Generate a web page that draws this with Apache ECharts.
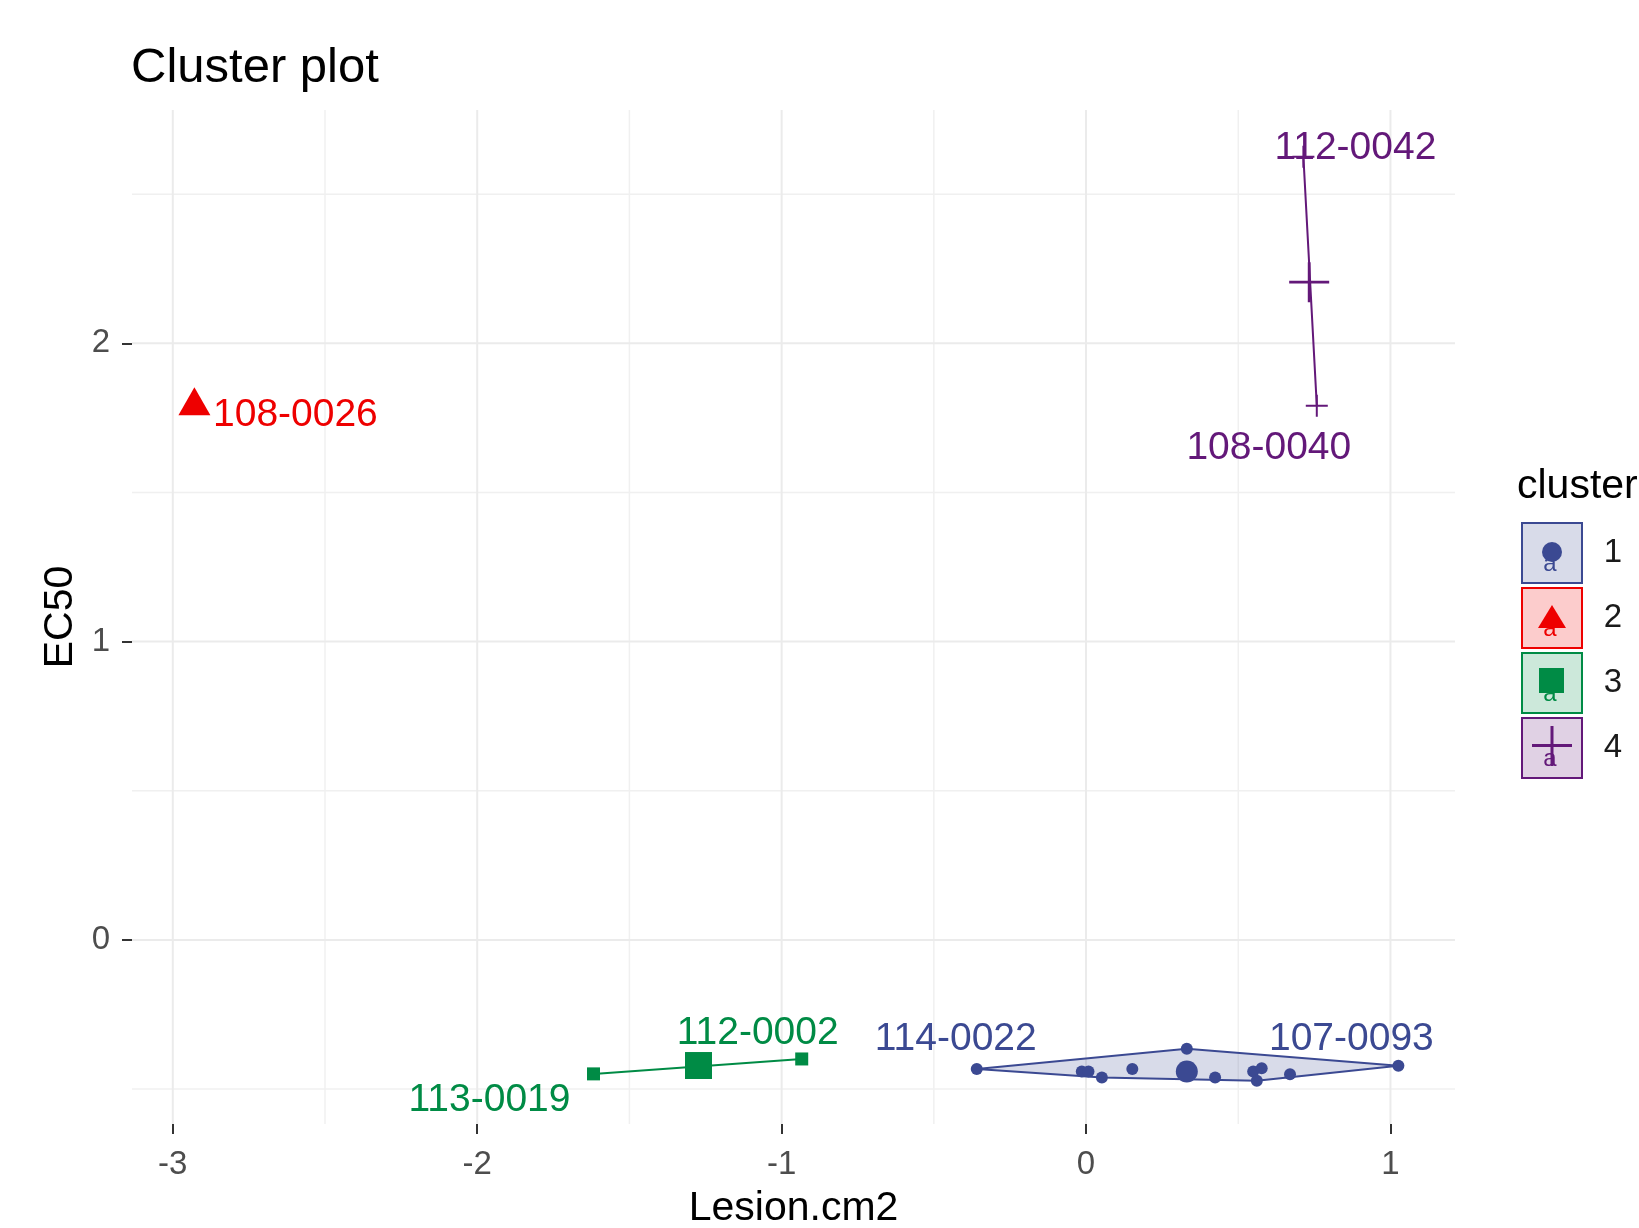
<!DOCTYPE html>
<html><head><meta charset="utf-8">
<script src="https://cdn.jsdelivr.net/npm/echarts@6/dist/echarts.min.js"></script>
<style>html,body{margin:0;padding:0;background:#fff}#c{width:1639px;height:1228px}</style>
</head><body><div id="c"></div>
<script>
// ---------------- data ----------------
const clusterNames = ['1', '2', '3', '4'];
const clusterColors = ['#3B4992', '#EE0000', '#008B45', '#631879'];

const cluster1Lesion = [-0.359, -0.014, 0.008, 0.052, 0.152, 0.331, 0.424, 0.549, 0.577, 0.561, 0.670, 1.026];
const cluster1EC50   = [-0.433, -0.441, -0.441, -0.461, -0.433, -0.365, -0.461, -0.441, -0.430, -0.472, -0.450, -0.422];
const cluster1Ids    = ['114-0022', '', '', '', '', '', '', '', '', '', '', '107-0093'];

const cluster2Lesion = [-2.929];
const cluster2EC50   = [1.806];
const cluster2Ids    = ['108-0026'];

const cluster3Lesion = [-1.618, -0.934];
const cluster3EC50   = [-0.449, -0.399];
const cluster3Ids    = ['113-0019', '112-0002'];

const cluster4Lesion = [0.714, 0.758];
const cluster4EC50   = [2.625, 1.791];
const cluster4Ids    = ['112-0042', '108-0040'];

const centroidLesion = [0.331, -2.929, -1.273, 0.733];
const centroidEC50   = [-0.441, 1.806, -0.421, 2.205];

const xTicks = [-3, -2, -1, 0, 1];
const yTicks = [0, 1, 2];
const xMinor = [-2.5, -1.5, -0.5, 0.5];
const yMinor = [-0.5, 0.5, 1.5, 2.5];
const xRange = [-3.134, 1.212];
const yRange = [-0.617, 2.782];

// ---------------- styling ----------------
const FONT = '"Liberation Sans", Arial, sans-serif';
const labelOffsets = {
  '114-0022': [-21, -30], '107-0093': [-47, -27], '108-0026': [101, 14],
  '113-0019': [-104, 26], '112-0002': [-44, -26], '112-0042': [52, -9], '108-0040': [-48, 43]
};
const plusSmall = 'path://M-1,-0.09L1,-0.09L1,0.09L-1,0.09Z M-0.09,-1L0.09,-1L0.09,1L-0.09,1Z';
const plusBig = 'path://M-1,-0.07L1,-0.07L1,0.07L-1,0.07Z M-0.07,-1L0.07,-1L0.07,1L-0.07,1Z';
const smallSymbols = [['circle', 12], ['triangle', [22, 19]], ['rect', 13], [plusSmall, 22]];
const bigSymbols = [['circle', 22], ['triangle', [32, 28]], ['rect', 27], [plusBig, 40]];

function rgba(hex, a) {
  const n = parseInt(hex.slice(1), 16);
  return 'rgba(' + (n >> 16 & 255) + ',' + (n >> 8 & 255) + ',' + (n & 255) + ',' + a + ')';
}

const clusters = [
  [cluster1Lesion, cluster1EC50, cluster1Ids],
  [cluster2Lesion, cluster2EC50, cluster2Ids],
  [cluster3Lesion, cluster3EC50, cluster3Ids],
  [cluster4Lesion, cluster4EC50, cluster4Ids]
];

function convexHull(points) {
  const p = points.slice().sort((a, b) => a[0] - b[0] || a[1] - b[1]);
  if (p.length < 3) return p;
  const cross = (o, a, b) => (a[0] - o[0]) * (b[1] - o[1]) - (a[1] - o[1]) * (b[0] - o[0]);
  const lower = [], upper = [];
  for (const q of p) { while (lower.length >= 2 && cross(lower[lower.length - 2], lower[lower.length - 1], q) <= 0) lower.pop(); lower.push(q); }
  for (let i = p.length - 1; i >= 0; i--) { const q = p[i]; while (upper.length >= 2 && cross(upper[upper.length - 2], upper[upper.length - 1], q) <= 0) upper.pop(); upper.push(q); }
  upper.pop(); lower.pop();
  return lower.concat(upper);
}
const hulls = clusters.map(c => convexHull(c[0].map((x, i) => [x, c[1][i]])));

// ---------------- series ----------------
const series = [];
function vLines(values, color, width) {
  return { type: 'custom', silent: true, z: 0, data: values.map(v => [v, 0]),
    renderItem: (params, api) => { const x = api.coord([api.value(0), 0])[0]; const cs = params.coordSys;
      return { type: 'line', shape: { x1: x, y1: cs.y, x2: x, y2: cs.y + cs.height }, style: { stroke: color, lineWidth: width } }; } };
}
function hLines(values, color, width) {
  return { type: 'custom', silent: true, z: 0, data: values.map(v => [0, v]),
    renderItem: (params, api) => { const y = api.coord([0, api.value(1)])[1]; const cs = params.coordSys;
      return { type: 'line', shape: { x1: cs.x, y1: y, x2: cs.x + cs.width, y2: y }, style: { stroke: color, lineWidth: width } }; } };
}
series.push(vLines(xMinor, '#F0F0F0', 1.5));
series.push(hLines(yMinor, '#F0F0F0', 1.5));
series.push(vLines(xTicks, '#EBEBEB', 2));
series.push(hLines(yTicks, '#EBEBEB', 2));
// hulls
series.push({
  type: 'custom', silent: true, z: 1,
  data: clusterNames.map((n, i) => [centroidLesion[i], centroidEC50[i]]),
  renderItem: (params, api) => {
    const k = params.dataIndex; const h = hulls[k];
    if (h.length < 2) return null;
    return { type: 'polygon', shape: { points: h.map(p => api.coord(p)) },
      style: { fill: rgba(clusterColors[k], 0.2), stroke: clusterColors[k], lineWidth: 2 } };
  }
});
// points
clusters.forEach((c, k) => {
  series.push({
    type: 'scatter', name: clusterNames[k], z: 3,
    symbol: smallSymbols[k][0], symbolSize: smallSymbols[k][1],
    itemStyle: { color: clusterColors[k], opacity: 1 },
    data: c[0].map((x, i) => {
      const id = c[2][i];
      const item = { value: [x, c[1][i]], name: id };
      if (id) item.label = { show: true, position: 'inside', offset: labelOffsets[id], formatter: id,
        color: clusterColors[k], fontSize: 39, fontFamily: FONT };
      return item;
    })
  });
});
// centroids
clusters.forEach((c, k) => {
  series.push({
    type: 'scatter', name: clusterNames[k], z: 4,
    symbol: bigSymbols[k][0], symbolSize: bigSymbols[k][1],
    itemStyle: { color: clusterColors[k], opacity: 1 },
    data: [[centroidLesion[k], centroidEC50[k]]]
  });
});

// ---------------- legend (graphic) ----------------
const graphic = [{ type: 'text', left: 1517, top: 466, style: { text: 'cluster', fontSize: 41, fontFamily: FONT, fill: '#000' } }];
clusterNames.forEach((n, k) => {
  const x0 = 1522, y0 = 523 + 65 * k, cx = x0 + 30, cy = y0 + 30, col = clusterColors[k];
  graphic.push({ type: 'rect', shape: { x: x0, y: y0, width: 60, height: 60 }, style: { fill: rgba(col, 0.2), stroke: col, lineWidth: 2 } });
  graphic.push({ type: 'text', x: cx - 2, y: cy + 11, style: { text: 'a', fontSize: 24, fontFamily: FONT, fill: col, align: 'center', verticalAlign: 'middle' } });
  if (k === 0) graphic.push({ type: 'circle', shape: { cx: cx, cy: cy - 1, r: 10 }, style: { fill: col } });
  if (k === 1) graphic.push({ type: 'polygon', shape: { points: [[cx, cy - 13], [cx - 14, cy + 10], [cx + 14, cy + 10]] }, style: { fill: col } });
  if (k === 2) graphic.push({ type: 'rect', shape: { x: cx - 13, y: cy - 15, width: 25, height: 25 }, style: { fill: col } });
  if (k === 3) {
    graphic.push({ type: 'rect', shape: { x: cx - 20, y: cy - 4, width: 40, height: 3 }, style: { fill: col } });
    graphic.push({ type: 'rect', shape: { x: cx - 1.5, y: cy - 22, width: 3, height: 40 }, style: { fill: col } });
  }
  graphic.push({ type: 'text', x: 1613, y: cy, style: { text: n, fontSize: 33, fontFamily: FONT, fill: '#1A1A1A', align: 'center', verticalAlign: 'middle' } });
});

// ---------------- chart ----------------
const chart = echarts.init(document.getElementById('c'), null, { renderer: 'canvas' });
chart.setOption({
  backgroundColor: '#fff',
  animation: false,
  textStyle: { fontFamily: FONT },
  title: { text: 'Cluster plot', left: 131, top: 44, padding: 0,
    textStyle: { fontSize: 49, fontWeight: 'normal', color: '#000', fontFamily: FONT } },
  grid: { left: 132, right: 184, top: 110, bottom: 104, containLabel: false, outerBoundsMode: 'none' },
  xAxis: {
    type: 'value', min: xRange[0], max: xRange[1],
    axisLine: { show: false, onZero: false },
    axisTick: { show: true, customValues: xTicks, length: 10, lineStyle: { color: '#333', width: 2 } },
    axisLabel: { customValues: xTicks, margin: 24, fontSize: 33, color: '#4D4D4D', fontFamily: FONT },
    splitLine: { show: false },
    name: 'Lesion.cm2', nameLocation: 'middle', nameGap: 64,
    nameTextStyle: { fontSize: 41, color: '#000', fontFamily: FONT }
  },
  yAxis: {
    type: 'value', min: yRange[0], max: yRange[1],
    axisLine: { show: false, onZero: false },
    axisTick: { show: true, customValues: yTicks, length: 10, lineStyle: { color: '#333', width: 2 } },
    axisLabel: { customValues: yTicks, margin: 22, fontSize: 33, color: '#4D4D4D', fontFamily: FONT },
    splitLine: { show: false },
    name: 'EC50', nameLocation: 'middle', nameGap: 42,
    nameTextStyle: { fontSize: 41, color: '#000', fontFamily: FONT }
  },
  graphic: graphic,
  series: series
});
</script></body></html>
